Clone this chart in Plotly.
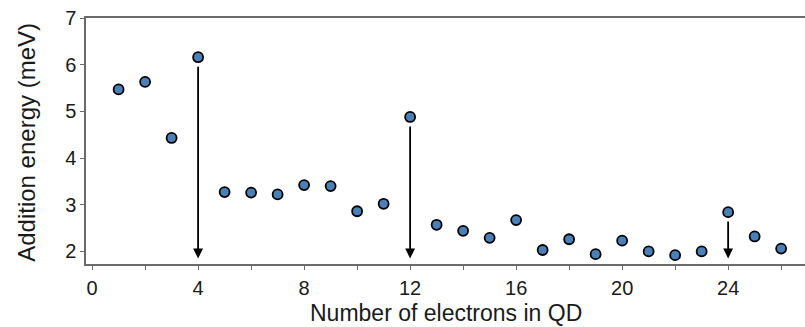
import plotly.graph_objects as go

# Addition energy per electron number
electrons = list(range(1, 27))
energy = [5.47, 5.63, 4.43, 6.16, 3.27, 3.26, 3.22, 3.42, 3.40, 2.86,
          3.02, 4.88, 2.57, 2.44, 2.29, 2.67, 2.03, 2.26, 1.94, 2.23,
          2.00, 1.92, 2.00, 2.84, 2.32, 2.06]

# Shell-closing electron numbers marked with arrows
shell_closings = [4, 12, 24]
arrow_floor = 1.85

x_ticks = list(range(0, 27, 2))
x_labels = [str(v) if v % 4 == 0 else "" for v in x_ticks]
y_ticks = [2, 3, 4, 5, 6, 7]

FONT = "Liberation Sans, Arial, sans-serif"
AXIS_COLOR = "#6a6a6a"

fig = go.Figure()
fig.add_trace(go.Scatter(
    x=electrons, y=energy, mode="markers",
    marker=dict(size=10, color="#4a80b8", line=dict(color="black", width=1.8)),
    showlegend=False,
))

for n in shell_closings:
    e = energy[electrons.index(n)]
    fig.add_annotation(
        x=n, y=arrow_floor, ax=n, ay=e - 0.17,
        xref="x", yref="y", axref="x", ayref="y",
        showarrow=True, arrowhead=2, arrowsize=1.1, arrowwidth=1.8,
        arrowcolor="black", text="",
    )

# Axis titles placed as paper-anchored labels
fig.add_annotation(
    text="Number of electrons in QD", xref="paper", yref="paper",
    x=0.5, y=-0.2, xanchor="center", yanchor="middle", showarrow=False,
    font=dict(size=23),
)
fig.add_annotation(
    text="Addition energy (meV)", xref="paper", yref="paper",
    x=-0.083, y=0.494, xanchor="center", yanchor="middle", textangle=-90,
    showarrow=False, font=dict(size=24),
)

fig.update_layout(
    width=805, height=327,
    margin=dict(l=86, r=0, t=18, b=63),
    plot_bgcolor="white", paper_bgcolor="white",
    font=dict(family=FONT, size=20, color="#1a1a1a"),
    xaxis=dict(
        range=[-0.23, 26.9], tickvals=x_ticks, ticktext=x_labels,
        ticks="outside", ticklen=4, tickcolor=AXIS_COLOR, tickwidth=1,
        ticklabelstandoff=1,
        showline=True, linecolor=AXIS_COLOR, linewidth=1.5, mirror=True,
        showgrid=False, zeroline=False,
    ),
    yaxis=dict(
        range=[1.73, 7.0], tickvals=y_ticks,
        ticks="outside", ticklen=4, tickcolor=AXIS_COLOR, tickwidth=1,
        showline=True, linecolor=AXIS_COLOR, linewidth=1.5,
        showgrid=False, zeroline=False,
    ),
)

fig.write_html("out.html")
